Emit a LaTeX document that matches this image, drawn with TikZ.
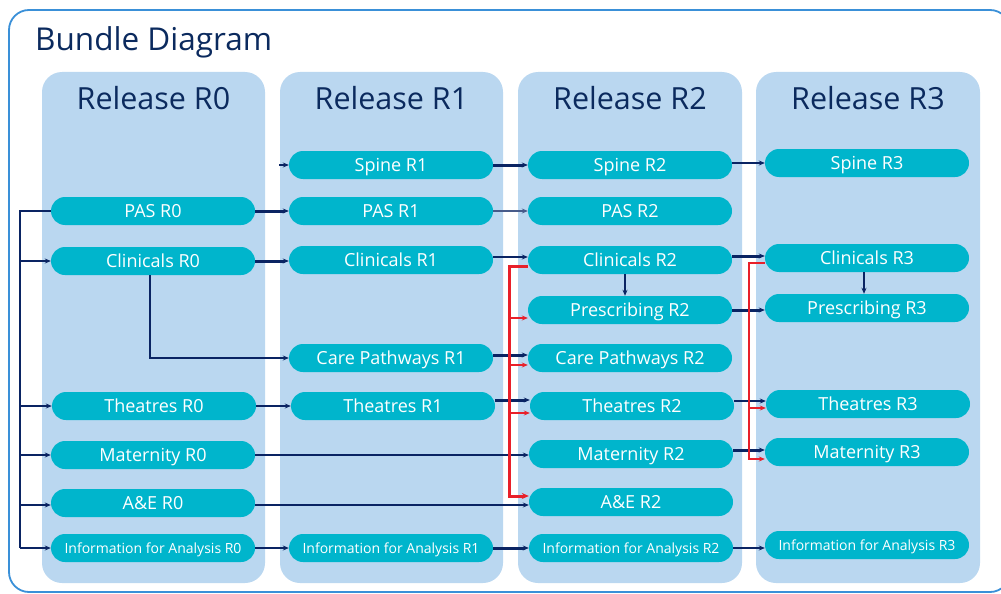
\documentclass[tikz,border=0pt]{standalone}
\usepackage{fontspec}
\setmainfont{Open Sans}
\usetikzlibrary{arrows.meta}

\definecolor{navy}{HTML}{0B2A5E}
\definecolor{linknavy}{HTML}{0A2463}
\definecolor{colfill}{HTML}{BAD7F0}
\definecolor{pillfill}{HTML}{00B5CC}
\definecolor{framecol}{HTML}{3A90D8}
\definecolor{linkred}{HTML}{E8202A}

\tikzset{
  pill/.style={rectangle, rounded corners=14pt, fill=pillfill, draw=none,
    minimum width=204pt, minimum height=28pt, inner sep=0pt, text=white,
    font=\fontsize{18}{20}\selectfont, text height=12.9pt, text depth=0pt},
  smallpill/.style={pill, font=\fontsize{14}{16}\selectfont, text height=10pt},
  column/.style={fill=colfill, rounded corners=20pt},
  heading/.style={text=navy, font=\fontsize{30.5}{36}\selectfont, anchor=base, inner sep=0pt},
  navytip/.style={-{Stealth[length=6pt,width=5pt]}},
  link/.style={draw=linknavy, line width=1.8pt, navytip},
  heavy/.style={link, line width=3pt},
  light/.style={link, draw=linknavy!75, line width=1.3pt},
  busline/.style={draw=linknavy, line width=2.6pt},
  redlink/.style={draw=linkred, line width=1.5pt, -{Stealth[length=6pt,width=5pt]}},
  redtrunk/.style={draw=linkred, line width=3pt, -{Stealth[length=7pt,width=6pt]}},
  redtrunkthin/.style={draw=linkred, line width=2pt, -{Stealth[length=6pt,width=5pt]}},
}

\begin{document}
\begin{tikzpicture}[x=1pt, y=-1pt]
\useasboundingbox (0,0) rectangle (1001,594);

% outer frame
\begin{scope}
  \clip (0,0) rectangle (1001,594);
  \draw[draw=framecol, line width=1.8pt, rounded corners=20pt] (9,10) rectangle (1010,592);
\end{scope}

\node[text=navy, font=\fontsize{31.5}{36}\selectfont, anchor=base west, inner sep=0pt] (title) at (35,51) {Bundle Diagram};

% release columns
\fill[column] (42,72) rectangle (265,583);
\fill[column] (280,72) rectangle (503,583);
\fill[column] (518,72) rectangle (742,583);
\fill[column] (756,72) rectangle (980,583);

\node[heading] (h0) at (153.5,109) {Release R0};
\node[heading] (h1) at (391.5,109) {Release R1};
\node[heading] (h2) at (630,109) {Release R2};
\node[heading] (h3) at (868,109) {Release R3};

% Release R0
\node[pill] (c0pas)   at (153,211) {PAS R0};
\node[pill] (c0clin)  at (153,261) {Clinicals R0};
\node[pill] (c0theat) at (154,406) {Theatres R0};
\node[pill] (c0mat)   at (153,455) {Maternity R0};
\node[pill] (c0ae)    at (153,503) {A\&E R0};
\node[smallpill] (c0info) at (153,548) {Information for Analysis R0};

% Release R1
\node[pill] (c1spine) at (391,165) {Spine R1};
\node[pill] (c1pas)   at (391,211) {PAS R1};
\node[pill] (c1clin)  at (391,260) {Clinicals R1};
\node[pill] (c1cp)    at (391,358) {Care Pathways R1};
\node[pill] (c1theat) at (393,406) {Theatres R1};
\node[smallpill] (c1info) at (391,548) {Information for Analysis R1};

% Release R2
\node[pill] (c2spine) at (630,165) {Spine R2};
\node[pill] (c2pas)   at (630,211) {PAS R2};
\node[pill] (c2clin)  at (630,260) {Clinicals R2};
\node[pill] (c2presc) at (630,310) {Prescribing R2};
\node[pill] (c2cp)    at (630,358) {Care Pathways R2};
\node[pill] (c2theat) at (632,406) {Theatres R2};
\node[pill] (c2mat)   at (631,454) {Maternity R2};
\node[pill] (c2ae)    at (631,502) {A\&E R2};
\node[smallpill] (c2info) at (631,548) {Information for Analysis R2};

% Release R3
\node[pill] (c3spine) at (867,163) {Spine R3};
\node[pill] (c3clin)  at (867,258) {Clinicals R3};
\node[pill] (c3presc) at (867,308) {Prescribing R3};
\node[pill] (c3theat) at (868,404) {Theatres R3};
\node[pill] (c3mat)   at (867,452) {Maternity R3};
\node[smallpill] (c3info) at (867,545) {Information for Analysis R3};

% feed bus on the left
\coordinate (bustop) at (20,211);
\coordinate (busbot) at (20,548);
\draw[busline] (c0pas.west) -- (bustop) -- (busbot);
\draw[link] (bustop |- c0clin.west) -- (c0clin.west);
\draw[link] (bustop |- c0theat.west) -- (c0theat.west);
\draw[link] (bustop |- c0mat.west) -- (c0mat.west);
\draw[link] ([yshift=-2pt]c0ae.west -| bustop) -- ([yshift=-2pt]c0ae.west);
\draw[link] (bustop |- c0info.west) -- (c0info.west);

% R0 -> R1 / R2
\draw[heavy] (c0pas.east) -- (c0pas.east -| c1pas.west);
\draw[heavy] (c0clin.east) -- (c0clin.east -| c1clin.west);
\draw[heavy, line width=2.6pt] ([xshift=-3pt]c0clin.south) |- (c1cp.west);
\draw[link] (c0theat.east) -- (c0theat.east -| c1theat.west);
\draw[link] (c0mat.east) -- (c0mat.east -| c2mat.west);
\draw[link] ([yshift=-2pt]c0ae.east) -- ([yshift=-2pt]c0ae.east -| c2ae.west);
\draw[link] (c0info.east) -- (c0info.east -| c1info.west);

% R1 -> R2
\coordinate (spinein) at (279,165);
\draw[link] (spinein) -- (c1spine.west);
\draw[heavy] (c1spine.east) -- (c1spine.east -| c2spine.west);
\draw[light] (c1pas.east) -- (c1pas.east -| c2pas.west);
\draw[link] ([yshift=3pt]c1clin.east) -- ([yshift=3pt]c1clin.east -| c2clin.west);
\draw[heavy] ([yshift=3pt]c1cp.east) -- ([yshift=3pt]c1cp.east -| c2cp.west);
\draw[heavy] ([yshift=6pt]c1theat.east) -- ([yshift=6pt]c1theat.east -| c2theat.west);
\draw[heavy] (c1info.east) -- (c1info.east -| c2info.west);

% R2 -> R3
\draw[link] ([yshift=2pt]c2spine.east) -- ([yshift=2pt]c2spine.east -| c3spine.west);
\draw[heavy] ([yshift=4pt]c2clin.east) -- ([yshift=4pt]c2clin.east -| c3clin.west);
\draw[link] ([xshift=-5pt]c2clin.south) -- ([xshift=-5pt]c2presc.north);
\draw[heavy] (c2presc.east) -- (c2presc.east -| c3presc.west);
\draw[link] ([yshift=5pt]c2theat.east) -- ([yshift=5pt]c2theat.east -| c3theat.west);
\draw[heavy] ([yshift=4pt]c2mat.east) -- ([yshift=4pt]c2mat.east -| c3mat.west);
\draw[link] (c2info.east) -- (c2info.east -| c3info.west);
\draw[link] ([xshift=-3pt]c3clin.south) -- ([xshift=-3pt]c3presc.north);

% Clinicals R2 dependencies
\coordinate (redbusA) at (509,0);
\draw[redtrunk] ([yshift=-6pt]c2clin.west) -- ([yshift=-6pt]c2clin.west -| redbusA)
  |- ([yshift=6pt]c2ae.west);
\draw[redlink] ([yshift=-8pt]c2presc.west -| redbusA) -- ([yshift=-8pt]c2presc.west);
\draw[redlink] ([yshift=-7pt]c2cp.west -| redbusA) -- ([yshift=-7pt]c2cp.west);
\draw[redlink] ([yshift=-7pt]c2theat.west -| redbusA) -- ([yshift=-7pt]c2theat.west);

% Clinicals R3 dependencies
\coordinate (redbusB) at (749,0);
\draw[redtrunkthin] ([yshift=-5pt]c3clin.west) -- ([yshift=-5pt]c3clin.west -| redbusB)
  |- ([yshift=-7pt]c3mat.west);
\draw[redlink] ([yshift=-4pt]c3theat.west -| redbusB) -- ([yshift=-4pt]c3theat.west);
\end{tikzpicture}
\end{document}
